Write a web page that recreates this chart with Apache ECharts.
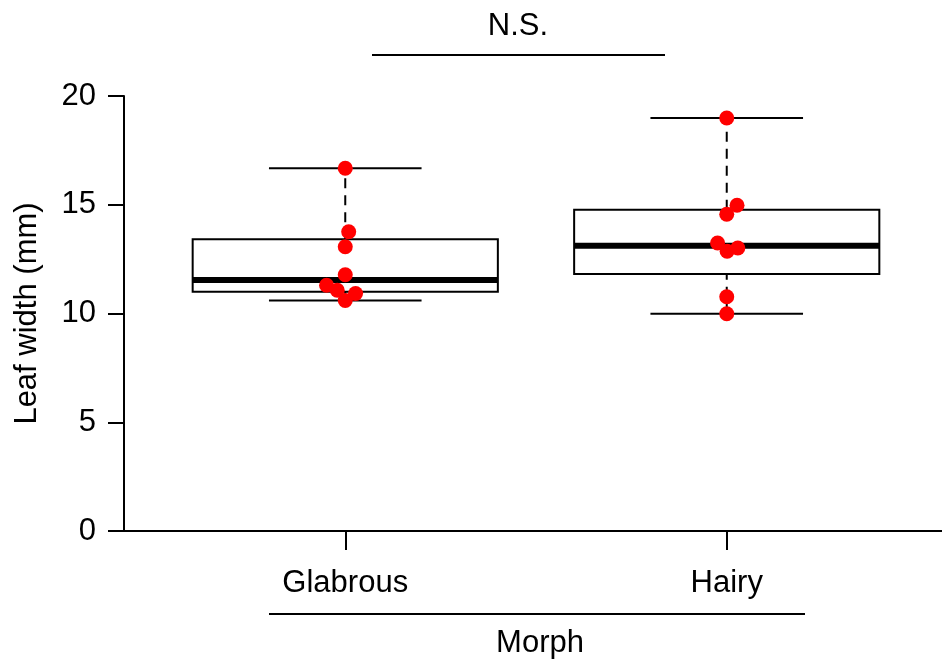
<!DOCTYPE html>
<html>
<head>
<meta charset="utf-8">
<script src="https://cdn.jsdelivr.net/npm/echarts@6/dist/echarts.min.js"></script>
<style>
  html, body { margin: 0; padding: 0; background: #fff; }
  #chart { width: 942px; height: 666px; }
</style>
</head>
<body>
<div id="chart"></div>
<script>
// groups on the x axis (positions 1 and 2)
const categories = ['Glabrous', 'Hairy'];

// box statistics: [min, q1, median, q3, max]
const glabrousBox = [10.6, 11.0, 11.54, 13.41, 16.68];
const hairyBox = [9.99, 11.82, 13.12, 14.77, 18.99];

// raw points and their horizontal jitter (in group units)
const glabrousValues = [16.68, 13.76, 13.07, 11.78, 11.3, 11.07, 10.92, 10.6];
const glabrousJitter = [0, 0.009, 0, 0, -0.049, -0.021, 0.027, 0];
const hairyValues = [18.99, 14.98, 14.56, 13.24, 13.01, 12.86, 10.77, 9.99];
const hairyJitter = [0, 0.027, 0, -0.024, 0.029, 0.001, 0, 0];

const yTicks = [0, 5, 10, 15, 20];

const font = "'Liberation Sans', Arial, sans-serif";
const fontSize = 31;

const chart = echarts.init(document.getElementById('chart'));

const boxData = [
  [1].concat(glabrousBox),
  [2].concat(hairyBox),
];
const pointData = [];
glabrousValues.forEach((v, i) => pointData.push([1 + glabrousJitter[i], v]));
hairyValues.forEach((v, i) => pointData.push([2 + hairyJitter[i], v]));

function renderBox(params, api) {
  const x = api.value(0);
  const lo = api.coord([x, api.value(1)]);
  const q1 = api.coord([x, api.value(2)]);
  const md = api.coord([x, api.value(3)]);
  const q3 = api.coord([x, api.value(4)]);
  const hi = api.coord([x, api.value(5)]);
  const halfBox = api.size([0.4, 0])[0];
  const halfCap = api.size([0.2, 0])[0];
  const cx = md[0];
  const solid = { stroke: '#000', lineWidth: 2 };
  const dashed = { stroke: '#000', lineWidth: 2, lineDash: [10, 7] };
  return {
    type: 'group',
    children: [
      { type: 'line', shape: { x1: cx, y1: q3[1], x2: cx, y2: hi[1] }, style: dashed },
      { type: 'line', shape: { x1: cx, y1: lo[1], x2: cx, y2: q1[1] }, style: dashed },
      { type: 'line', shape: { x1: cx - halfCap, y1: hi[1], x2: cx + halfCap, y2: hi[1] }, style: solid },
      { type: 'line', shape: { x1: cx - halfCap, y1: lo[1], x2: cx + halfCap, y2: lo[1] }, style: solid },
      {
        type: 'rect',
        shape: { x: cx - halfBox, y: q3[1], width: halfBox * 2, height: q1[1] - q3[1] },
        style: { fill: '#fff', stroke: '#000', lineWidth: 2 }
      },
      {
        type: 'line',
        shape: { x1: cx - halfBox, y1: md[1], x2: cx + halfBox, y2: md[1] },
        style: { stroke: '#000', lineWidth: 6, lineCap: 'butt' }
      }
    ]
  };
}

const option = {
  animation: false,
  backgroundColor: '#fff',
  textStyle: { fontFamily: font },
  grid: { left: 124, top: 96, width: 824, bottom: 135, outerBoundsMode: 'none' },
  xAxis: {
    type: 'value',
    min: 0.42,
    max: 2.58,
    name: 'Morph',
    nameLocation: 'middle',
    nameGap: 97,
    nameTextStyle: { color: '#000', fontSize: fontSize, fontFamily: font, padding: [0, 0, 0, 8] },
    axisLine: { show: true, lineStyle: { color: '#000', width: 2 } },
    axisTick: { show: true, customValues: [1, 2], length: 19, lineStyle: { color: '#000', width: 2 } },
    axisLabel: {
      customValues: [1, 2],
      formatter: (v) => categories[Math.round(v) - 1],
      color: '#000',
      fontSize: fontSize,
      fontFamily: font,
      margin: 37
    },
    splitLine: { show: false }
  },
  yAxis: {
    type: 'value',
    min: 0,
    max: 20,
    interval: 5,
    name: 'Leaf width (mm)',
    nameLocation: 'middle',
    nameGap: 81,
    nameTextStyle: { color: '#000', fontSize: fontSize, fontFamily: font },
    axisLine: { show: true, lineStyle: { color: '#000', width: 2 } },
    axisTick: { show: true, length: 16, lineStyle: { color: '#000', width: 2 } },
    axisLabel: {
      color: '#000',
      fontSize: fontSize,
      fontFamily: font,
      margin: 28,
      formatter: (v) => (yTicks.indexOf(v) >= 0 ? String(v) : '')
    },
    splitLine: { show: false }
  },
  series: [
    {
      type: 'custom',
      name: 'box',
      renderItem: renderBox,
      data: boxData,
      encode: { x: 0, y: [1, 2, 3, 4, 5] },
      z: 2
    },
    {
      type: 'scatter',
      name: 'points',
      data: pointData,
      symbolSize: 15,
      itemStyle: { color: '#ff0000', opacity: 1 },
      z: 3
    }
  ],
  graphic: [
    // significance bracket above the plot
    {
      type: 'text',
      x: 518, y: 26,
      style: { text: 'N.S.', fill: '#000', font: fontSize + 'px ' + font, align: 'center', verticalAlign: 'middle' }
    },
    {
      type: 'line',
      shape: { x1: 372, y1: 55, x2: 665, y2: 55 },
      style: { stroke: '#000', lineWidth: 2 }
    },
    // rule between tick labels and axis title
    {
      type: 'line',
      shape: { x1: 269, y1: 614, x2: 805, y2: 614 },
      style: { stroke: '#000', lineWidth: 2 }
    }
  ]
};

chart.setOption(option);
</script>
</body>
</html>
